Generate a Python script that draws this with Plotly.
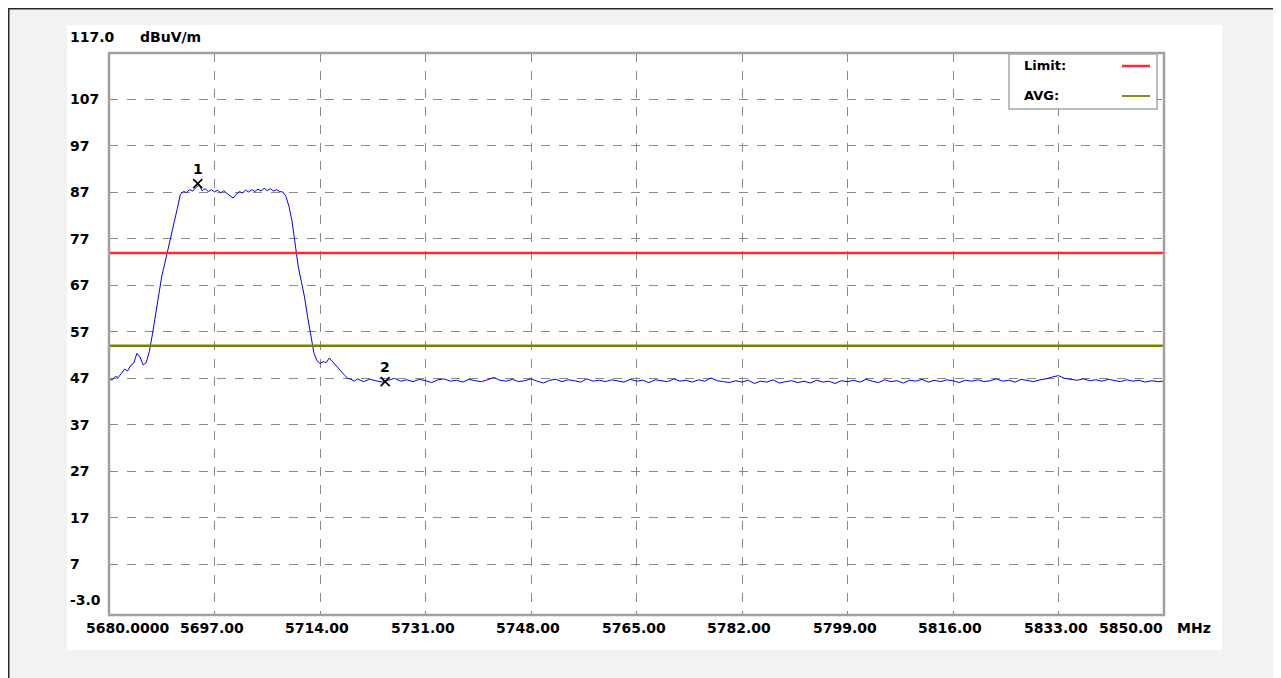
import plotly.graph_objects as go

# ---------------- data ----------------
freq_mhz = [
    5680.0, 5680.5, 5681.0, 5681.5, 5682.0, 5682.5, 5683.0, 5683.5, 5684.0, 5684.5,
    5685.0, 5685.5, 5686.0, 5686.5, 5687.0, 5687.5, 5688.0, 5688.5, 5689.0, 5689.5,
    5690.0, 5690.5, 5691.0, 5691.5, 5692.0, 5692.5, 5693.0, 5693.5, 5694.0, 5694.5,
    5695.0, 5695.5, 5696.0, 5696.5, 5697.0, 5697.5, 5698.0, 5698.5, 5699.0, 5699.5,
    5700.0, 5700.5, 5701.0, 5701.5, 5702.0, 5702.5, 5703.0, 5703.5, 5704.0, 5704.5,
    5705.0, 5705.5, 5706.0, 5706.5, 5707.0, 5707.5, 5708.0, 5708.5, 5709.0, 5709.5,
    5710.0, 5710.5, 5711.0, 5711.5, 5712.0, 5712.5, 5713.0, 5713.5, 5714.0, 5714.5,
    5715.0, 5715.5, 5716.0, 5716.5, 5717.0, 5717.5, 5718.0, 5718.5, 5719.0, 5719.5,
    5720, 5721, 5722, 5723, 5724, 5725, 5726, 5727, 5728, 5729,
    5730, 5731, 5732, 5733, 5734, 5735, 5736, 5737, 5738, 5739,
    5740, 5741, 5742, 5743, 5744, 5745, 5746, 5747, 5748, 5749,
    5750, 5751, 5752, 5753, 5754, 5755, 5756, 5757, 5758, 5759,
    5760, 5761, 5762, 5763, 5764, 5765, 5766, 5767, 5768, 5769,
    5770, 5771, 5772, 5773, 5774, 5775, 5776, 5777, 5778, 5779,
    5780, 5781, 5782, 5783, 5784, 5785, 5786, 5787, 5788, 5789,
    5790, 5791, 5792, 5793, 5794, 5795, 5796, 5797, 5798, 5799,
    5800, 5801, 5802, 5803, 5804, 5805, 5806, 5807, 5808, 5809,
    5810, 5811, 5812, 5813, 5814, 5815, 5816, 5817, 5818, 5819,
    5820, 5821, 5822, 5823, 5824, 5825, 5826, 5827, 5828, 5829,
    5830, 5831, 5832, 5833, 5834, 5835, 5836, 5837, 5838, 5839,
    5840, 5841, 5842, 5843, 5844, 5845, 5846, 5847, 5848, 5849,
    5850,
]
level_dbuv = [
    47.0, 46.6, 47.4, 47.2, 48.1, 49.0, 48.6, 49.8, 50.3, 52.4,
    51.6, 49.9, 50.4, 52.8, 56.5, 61.0, 65.5, 69.0, 71.8, 75.0,
    78.0, 80.6, 83.5, 86.6, 87.2, 87.0, 87.6, 87.3, 88.0, 88.6,
    87.4, 87.8, 87.2, 87.6, 87.1, 87.5, 86.9, 87.4, 86.8, 86.2,
    85.8, 86.6, 87.2, 86.9, 87.5, 87.1, 87.6, 87.2, 87.7, 87.3,
    87.9, 87.4, 87.8, 87.3, 87.6, 87.2, 87.1, 86.2, 84.0, 80.8,
    75.5, 71.0, 67.8, 64.5, 60.3, 56.2, 52.6, 50.8, 50.2, 50.6,
    50.4, 51.4, 50.6, 49.8, 49.0, 48.4, 47.6, 47.0, 46.8, 46.4,
    46.9, 46.3, 46.8, 46.5, 46.2, 46.6, 47.0, 46.4, 46.7, 46.3,
    46.8, 46.5, 46.1, 46.7, 46.9, 46.4, 46.6, 46.2, 46.8, 46.5,
    46.3, 46.7, 47.2, 46.6, 46.4, 46.8, 46.3, 46.5, 46.9, 46.4,
    46.0, 46.6, 46.8, 46.3, 46.7, 46.5, 46.2, 46.9, 46.4, 46.6,
    46.3, 46.7, 46.5, 46.2, 46.8, 46.4, 46.6, 46.1, 46.7, 46.5,
    46.3, 46.9, 46.4, 46.6, 46.2, 46.7, 46.4, 47.1, 46.5, 46.3,
    46.1, 46.5, 46.2, 46.6, 45.9, 46.4, 46.2, 46.7, 46.0, 46.3,
    46.5, 46.1, 46.4, 46.0, 46.6, 46.2, 46.4, 45.9, 46.5, 46.3,
    46.6, 46.2, 46.8, 46.4, 46.1, 46.7, 46.3, 46.5, 46.0, 46.6,
    46.4, 46.8, 46.2, 46.6, 46.3, 46.7, 46.5, 46.1, 46.6, 46.4,
    46.7, 46.3, 46.5, 46.9, 46.4, 46.6, 46.2, 46.8, 46.5, 46.3,
    46.7, 46.9, 47.3, 47.6, 47.0, 46.8, 46.6, 46.9, 46.5, 46.7,
    46.4, 46.8, 46.5, 46.3, 46.7, 46.4, 46.6, 46.2, 46.5, 46.3,
    46.4,
]
limit_dbuv = 74.0
avg_dbuv = 54.0

marker_freq = [5694.3, 5724.5]
marker_level = [88.9, 46.3]
marker_labels = ["1", "2"]

x_ticks = [5680, 5697, 5714, 5731, 5748, 5765, 5782, 5799, 5816, 5833, 5850]
x_tick_text = ["5680.0000", "5697.00", "5714.00", "5731.00", "5748.00", "5765.00",
               "5782.00", "5799.00", "5816.00", "5833.00", "5850.00"]
y_ticks = [7, 17, 27, 37, 47, 57, 67, 77, 87, 97, 107]
y_top_label = "117.0"
y_bottom_label = "-3.0"
y_unit = "dBuV/m"
x_unit = "MHz"
legend_names = ["Limit:", "AVG:"]

# ---------------- geometry (page pixels; the page body adds an 8px offset) ----------------
OFF = 8
W, H = 1281 - OFF, 678 - OFF
L, R, T, B = 109, 1164, 53, 615   # plot area in page pixels


def px(p):
    return (p - L) / (R - L)


def py(q):
    return (B - q) / (B - T)


FONT = "DejaVu Sans"
BLUE = "#0000ff"
RED = "#ff2b2b"
OLIVE = "#808000"

fig = go.Figure()

fig.add_trace(go.Scatter(x=freq_mhz, y=level_dbuv, mode="lines",
                         line=dict(color=BLUE, width=1), showlegend=False,
                         hoverinfo="skip"))
fig.add_trace(go.Scatter(x=[x_ticks[0], x_ticks[-1]], y=[limit_dbuv, limit_dbuv],
                         mode="lines", line=dict(color=RED, width=2.5),
                         showlegend=False, hoverinfo="skip"))
fig.add_trace(go.Scatter(x=[x_ticks[0], x_ticks[-1]], y=[avg_dbuv, avg_dbuv],
                         mode="lines", line=dict(color=OLIVE, width=2.5),
                         showlegend=False, hoverinfo="skip"))
fig.add_trace(go.Scatter(x=marker_freq, y=marker_level, mode="markers",
                         marker=dict(symbol="x-thin", size=9,
                                     line=dict(color="black", width=1.6)),
                         showlegend=False, hoverinfo="skip"))

shapes = []
# white panel
shapes.append(dict(type="rect", xref="paper", yref="paper",
                   x0=px(67), x1=px(1222), y0=py(650), y1=py(25),
                   fillcolor="white", line=dict(width=0), layer="below"))
# outer frame lines (top and left edge of the figure)
shapes.append(dict(type="line", xref="paper", yref="paper",
                   x0=px(8), x1=px(1290), y0=py(8.5), y1=py(8.5),
                   line=dict(color="#2a2a2a", width=2), layer="above"))
shapes.append(dict(type="line", xref="paper", yref="paper",
                   x0=px(8.5), x1=px(8.5), y0=py(8), y1=py(690),
                   line=dict(color="#2a2a2a", width=2), layer="above"))
# plot border
shapes.append(dict(type="rect", xref="paper", yref="paper",
                   x0=0, x1=1, y0=0, y1=1,
                   line=dict(color="#a0a0a0", width=2.5), layer="above"))
# legend box
shapes.append(dict(type="rect", xref="paper", yref="paper",
                   x0=px(1009), x1=px(1157), y0=py(109), y1=py(54),
                   fillcolor="white", line=dict(color="#a8a8a8", width=1.5),
                   layer="above"))
shapes.append(dict(type="line", xref="paper", yref="paper",
                   x0=px(1122), x1=px(1150), y0=py(66), y1=py(66),
                   line=dict(color=RED, width=2.5), layer="above"))
shapes.append(dict(type="line", xref="paper", yref="paper",
                   x0=px(1122), x1=px(1150), y0=py(96), y1=py(96),
                   line=dict(color=OLIVE, width=1.8), layer="above"))

ann = []
lab_font = dict(family=FONT, size=14, color="black")
# y tick labels
for v in y_ticks:
    ann.append(dict(xref="paper", yref="y", x=px(68), y=v, text="<b>%d</b>" % v,
                    showarrow=False, xanchor="left", yanchor="middle", font=lab_font))
ann.append(dict(xref="paper", yref="paper", x=px(68), y=py(37),
                text="<b>%s</b>" % y_top_label, showarrow=False,
                xanchor="left", yanchor="middle", font=lab_font))
ann.append(dict(xref="paper", yref="paper", x=px(138), y=py(37),
                text="<b>%s</b>" % y_unit, showarrow=False,
                xanchor="left", yanchor="middle", font=lab_font))
ann.append(dict(xref="paper", yref="paper", x=px(68), y=py(600),
                text="<b>%s</b>" % y_bottom_label, showarrow=False,
                xanchor="left", yanchor="middle", font=lab_font))
# x tick labels
for i, (v, t) in enumerate(zip(x_ticks, x_tick_text)):
    shift = -3
    if i == 0:
        shift = 19
    elif i == len(x_ticks) - 1:
        shift = -33
    ann.append(dict(xref="x", yref="paper", x=v, y=py(628), text="<b>%s</b>" % t,
                    showarrow=False, xanchor="center", yanchor="middle",
                    xshift=shift, font=lab_font))
ann.append(dict(xref="paper", yref="paper", x=px(1175), y=py(628),
                text="<b>%s</b>" % x_unit, showarrow=False,
                xanchor="left", yanchor="middle", font=lab_font))
# legend text
leg_font = dict(family=FONT, size=13, color="black")
ann.append(dict(xref="paper", yref="paper", x=px(1022), y=py(66),
                text="<b>%s</b>" % legend_names[0], showarrow=False,
                xanchor="left", yanchor="middle", font=leg_font))
ann.append(dict(xref="paper", yref="paper", x=px(1022), y=py(95),
                text="<b>%s</b>" % legend_names[1], showarrow=False,
                xanchor="left", yanchor="middle", font=leg_font))
# marker labels
for f, lv, t in zip(marker_freq, marker_level, marker_labels):
    ann.append(dict(xref="x", yref="y", x=f, y=lv, text="<b>%s</b>" % t,
                    showarrow=False, xanchor="center", yanchor="middle", yshift=15,
                    font=dict(family=FONT, size=14, color="black")))

fig.update_layout(
    width=W, height=H,
    margin=dict(l=L - OFF, r=W - (R - OFF), t=T - OFF, b=H - (B - OFF), pad=0),
    paper_bgcolor="#f2f2f2",
    plot_bgcolor="rgba(0,0,0,0)",
    shapes=shapes,
    annotations=ann,
    showlegend=False,
    xaxis=dict(range=[x_ticks[0], x_ticks[-1]], tickvals=x_ticks[1:-1],
               showticklabels=False, ticks="", showgrid=True,
               gridcolor="#8a8a8a", gridwidth=1, griddash="dash",
               zeroline=False, showline=False, fixedrange=True),
    yaxis=dict(range=[-3.9, 117], tickvals=y_ticks, showticklabels=False,
               ticks="", showgrid=True, gridcolor="#8a8a8a", gridwidth=1,
               griddash="dash", zeroline=False, showline=False, fixedrange=True),
)

fig.write_html("out.html")
